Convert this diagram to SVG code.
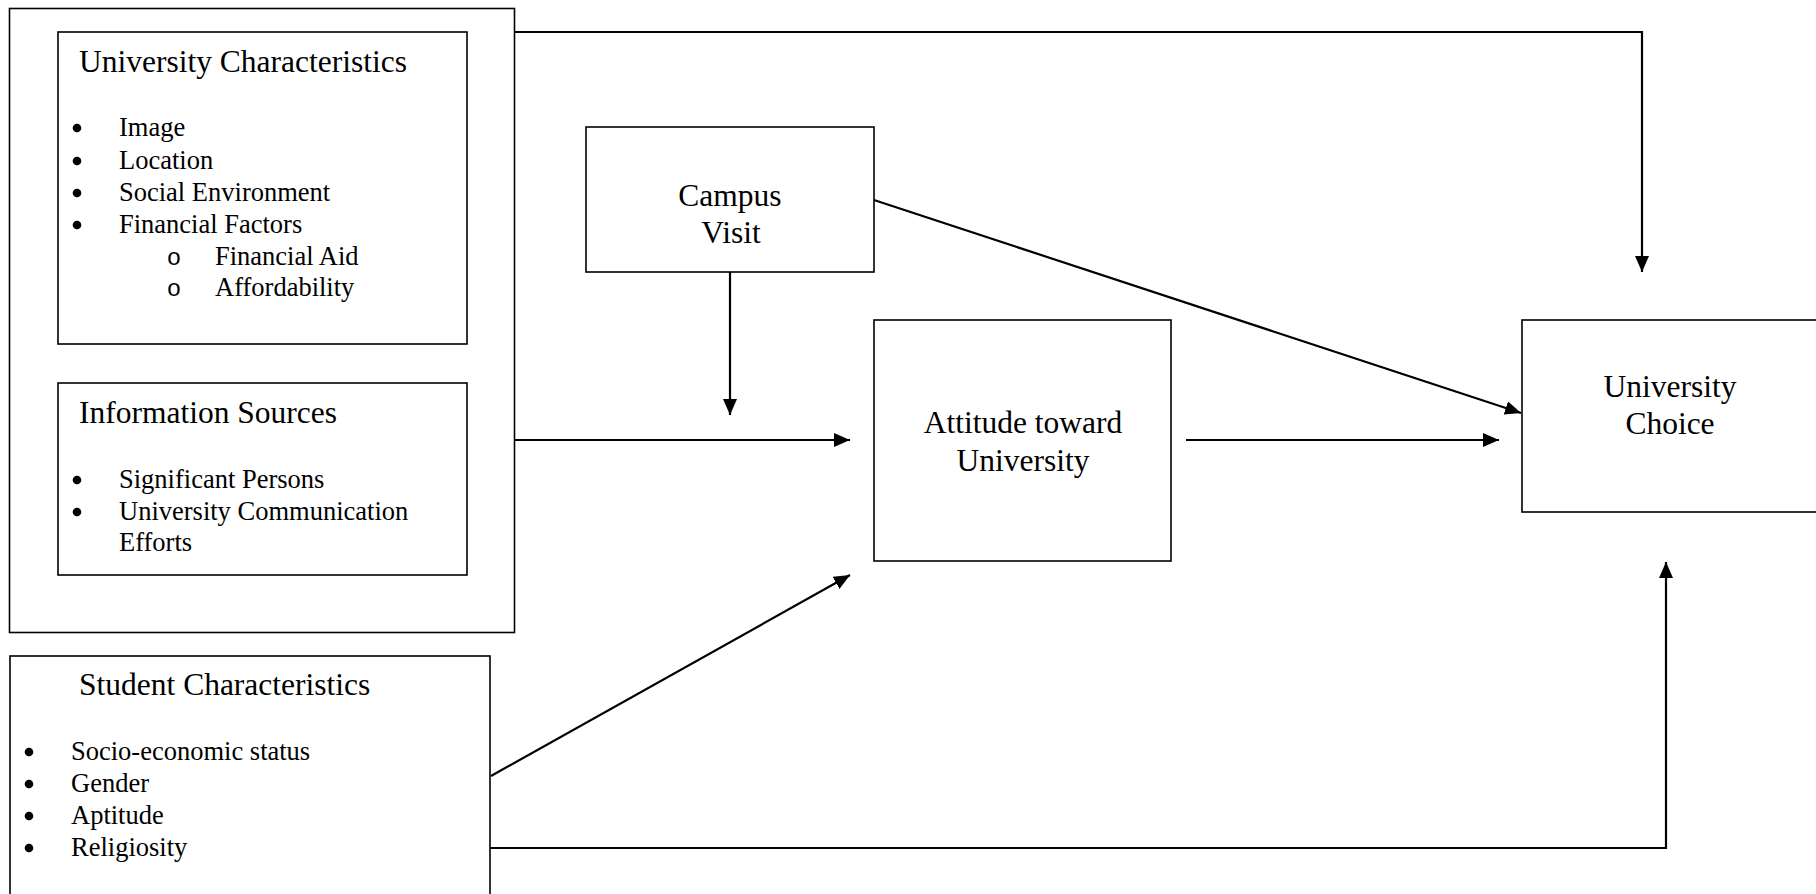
<svg xmlns="http://www.w3.org/2000/svg" width="1816" height="894" viewBox="0 0 1816 894">
<style>
.box{fill:none;stroke:#000;stroke-width:1.6}
.t{font-family:"Liberation Serif","Times New Roman",serif;fill:#000}
.h{font-size:31.5px}
.b{font-size:26.5px}
.c{text-anchor:middle}
.o{font-family:"Liberation Mono","Courier New",monospace;font-size:24px;text-anchor:middle}
.dot{fill:#000}
.con{fill:none;stroke:#000;stroke-width:2.2}
</style>
<defs>
<marker id="ah" markerUnits="userSpaceOnUse" markerWidth="16" markerHeight="14" refX="16" refY="7" orient="auto">
<path d="M0,0 L16,7 L0,14 z" fill="#000"/>
</marker>
</defs>
<rect width="1816" height="894" fill="#fff"/>
<g id="outer-group">
<rect class="box" x="9.5" y="8.5" width="505" height="624"/>
</g>
<g id="university-characteristics">
<rect class="box" x="58" y="32" width="409" height="312"/>
<text class="t h" x="79" y="72">University Characteristics</text>
<circle class="dot" cx="77" cy="128" r="4.3"/>
<text class="t b" x="119" y="136">Image</text>
<circle class="dot" cx="77" cy="161" r="4.3"/>
<text class="t b" x="119" y="169">Location</text>
<circle class="dot" cx="77" cy="193" r="4.3"/>
<text class="t b" x="119" y="201">Social Environment</text>
<circle class="dot" cx="77" cy="225" r="4.3"/>
<text class="t b" x="119" y="233">Financial Factors</text>
<text class="t o" x="174" y="265">o</text>
<text class="t b" x="215" y="265">Financial Aid</text>
<text class="t o" x="174" y="296">o</text>
<text class="t b" x="215" y="296">Affordability</text>
</g>
<g id="information-sources">
<rect class="box" x="58" y="383" width="409" height="192"/>
<text class="t h" x="79" y="423">Information Sources</text>
<circle class="dot" cx="77" cy="480" r="4.3"/>
<text class="t b" x="119" y="488">Significant Persons</text>
<circle class="dot" cx="77" cy="512" r="4.3"/>
<text class="t b" x="119" y="520">University Communication</text>
<text class="t b" x="119" y="551">Efforts</text>
</g>
<g id="student-characteristics">
<rect class="box" x="10" y="656" width="480" height="260"/>
<text class="t h" x="79" y="695">Student Characteristics</text>
<circle class="dot" cx="29" cy="752" r="4.3"/>
<text class="t b" x="71" y="760">Socio-economic status</text>
<circle class="dot" cx="29" cy="784" r="4.3"/>
<text class="t b" x="71" y="792">Gender</text>
<circle class="dot" cx="29" cy="816" r="4.3"/>
<text class="t b" x="71" y="824">Aptitude</text>
<circle class="dot" cx="29" cy="848" r="4.3"/>
<text class="t b" x="71" y="856">Religiosity</text>
</g>
<g id="campus-visit">
<rect class="box" x="586" y="127" width="288" height="145"/>
<text class="t h c" x="730" y="206">Campus</text>
<text class="t h c" x="731" y="243">Visit</text>
</g>
<g id="attitude">
<rect class="box" x="874" y="320" width="297" height="241"/>
<text class="t h c" x="1023" y="433">Attitude toward</text>
<text class="t h c" x="1023" y="471">University</text>
</g>
<g id="university-choice">
<rect class="box" x="1522" y="320" width="320" height="192"/>
<text class="t h c" x="1670" y="397">University</text>
<text class="t h c" x="1670" y="434">Choice</text>
</g>
<g id="connectors">
<polyline class="con" points="514,32 1642,32 1642,272" marker-end="url(#ah)"/>
<line class="con" x1="730" y1="272" x2="730" y2="415" marker-end="url(#ah)"/>
<line class="con" x1="514" y1="440" x2="850" y2="440" marker-end="url(#ah)"/>
<line class="con" x1="1186" y1="440" x2="1499" y2="440" marker-end="url(#ah)"/>
<line class="con" x1="874" y1="200" x2="1521" y2="413" marker-end="url(#ah)"/>
<line class="con" x1="491" y1="776" x2="850" y2="575" marker-end="url(#ah)"/>
<polyline class="con" points="490,848 1666,848 1666,562" marker-end="url(#ah)"/>
</g>
</svg>
